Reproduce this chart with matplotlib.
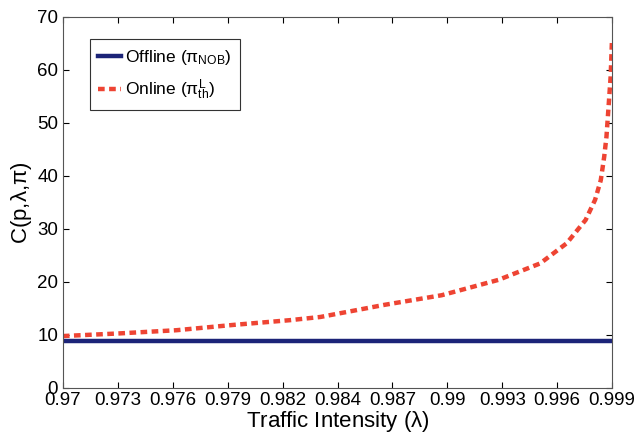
import matplotlib
matplotlib.use("Agg")
import matplotlib.pyplot as plt
import numpy as np

plt.rcParams['font.family'] = ['Liberation Sans', 'DejaVu Sans']
plt.rcParams['mathtext.fontset'] = 'custom'
plt.rcParams['mathtext.rm'] = 'Liberation Sans'
plt.rcParams['mathtext.it'] = 'Liberation Sans'

# traffic intensity and cost values
lam = [0.970, 0.973, 0.976, 0.979, 0.982, 0.9836, 0.987, 0.990, 0.993,
       0.9952, 0.9966, 0.9976, 0.9981, 0.9984, 0.99858, 0.9987, 0.9988,
       0.99892, 0.99899]
online = [9.8, 10.3, 10.9, 11.9, 12.8, 13.4, 15.7, 17.5, 20.4,
          23.5, 27.3, 31.7, 35.5, 39.2, 43.6, 47.4, 52.5, 58.7, 65.5]
offline = [8.9] * len(lam)

xtick_labels = ['0.97', '0.973', '0.976', '0.979', '0.982', '0.984',
                '0.987', '0.99', '0.993', '0.996', '0.999']

fig = plt.figure(figsize=(6.35, 4.34), dpi=100)
ax = fig.add_axes([0.099, 0.106, 0.865, 0.855])

ax.plot(lam, offline, color='#1c2478', lw=3.2, label=r'Offline ($\pi_{\rm NOB}$)')
ax.plot(lam, online, color='#ee4433', lw=3.2, ls=(0, (1.5, 1.0)),
        label=r'Online ($\pi^{\rm L}_{\rm th}$)')

ax.set_xlim(0.97, 0.999)
ax.set_ylim(0, 70)
ax.set_xticks(np.linspace(0.97, 0.999, 11))
ax.set_xticklabels(xtick_labels)
ax.set_yticks(range(0, 71, 10))
ax.tick_params(labelsize=13.5, direction='in', length=4, top=True, right=True)
ax.tick_params(axis='x', pad=3)
for s in ax.spines.values():
    s.set_color('#555555')

ax.set_xlabel(r'Traffic Intensity ($\lambda$)', fontsize=16, labelpad=0)
ax.set_ylabel(r'C(p,$\lambda$,$\pi$)', fontsize=16, labelpad=2)

leg = ax.legend(loc='upper left', bbox_to_anchor=(0.049, 0.94), fontsize=12.5,
                handlelength=1.3, handletextpad=0.2, fancybox=False,
                framealpha=1, edgecolor='#333333', borderpad=0.5, labelspacing=0.6,
                borderaxespad=0)
leg.get_frame().set_linewidth(0.8)

fig.savefig('out.png', dpi=100)
